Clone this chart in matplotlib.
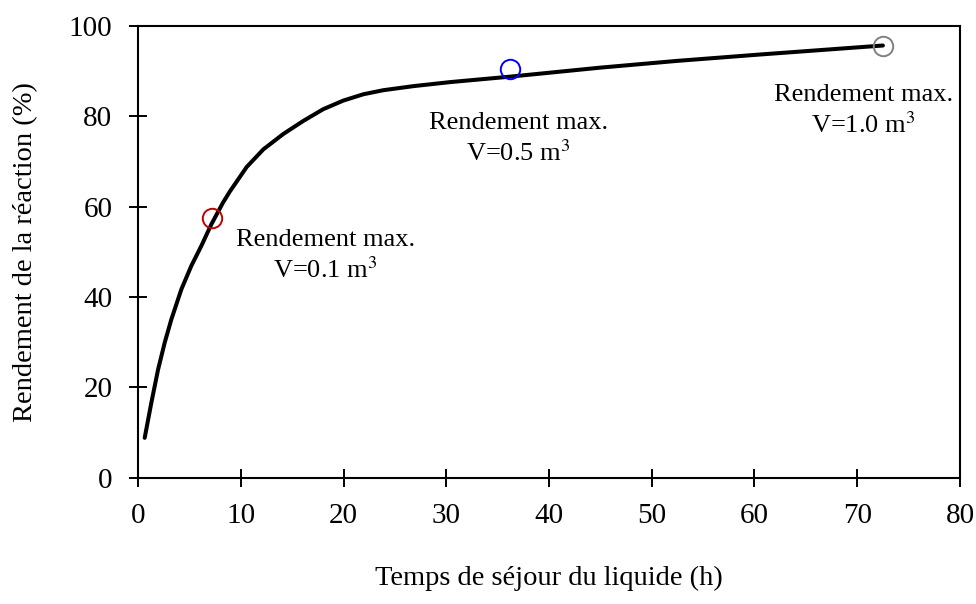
import matplotlib
matplotlib.use('Agg')
import matplotlib.pyplot as plt

# courbe rendement vs temps de séjour
temps = [0.65, 1.30, 1.95, 2.60, 3.24, 4.22, 5.19, 6.16, 7.14, 8.27, 8.95, 10.58, 12.2, 14.14,
         16.09, 18.03, 19.98, 21.93, 23.87, 26.8, 30.4, 36.2, 45.0, 52.5, 60.5, 72.5]
rendement = [8.8, 16.6, 23.9, 29.9, 35.0, 41.7, 46.9, 51.3, 56.1, 60.9, 63.4, 68.8, 72.7, 76.1,
             79.0, 81.6, 83.5, 84.9, 85.8, 86.7, 87.6, 88.8, 90.8, 92.3, 93.7, 95.7]

# points de rendement max
max_t = [7.2, 36.2, 72.5]
max_r = [57.4, 90.4, 95.7]
max_colors = ['#c00000', '#0000ff', '#808080']
max_labels = ['Rendement max.\nV=0.1 m$^3$', 'Rendement max.\nV=0.5 m$^3$', 'Rendement max.\nV=1.0 m$^3$']
label_pos = [(18.25, 49.0), (37.0, 75.0), (70.6, 81.2)]

plt.rcParams['font.family'] = ['Liberation Serif', 'DejaVu Serif']
plt.rcParams['mathtext.fontset'] = 'stix'

fig = plt.figure(figsize=(9.76, 6.04), dpi=100)
ax = fig.add_axes([0.1414, 0.2093, 0.8422, 0.7475])

ax.plot(temps, rendement, color='black', lw=2.9, solid_capstyle='round', solid_joinstyle='round')
for t, r, c in zip(max_t, max_r, max_colors):
    ax.plot(t, r, 'o', ms=14, mfc='none', mec=c, mew=1.4)
for (x, y), s in zip(label_pos, max_labels):
    ax.text(x, y, s, ha='center', va='center', fontsize=19, linespacing=1.3)

ax.set_xlim(0, 80)
ax.set_ylim(0, 100)
ax.set_xticks(range(0, 81, 10))
ax.set_yticks(range(0, 101, 20))
ax.tick_params(direction='inout', length=13, width=1.4, labelsize=21, pad=12)
for sp in ax.spines.values():
    sp.set_linewidth(1.5)
ax.set_xlabel('Temps de séjour du liquide (h)', fontsize=20.5, labelpad=26)
ax.set_ylabel('Rendement de la réaction (%)', fontsize=20.5, labelpad=22)

plt.savefig('out.png', dpi=100)
